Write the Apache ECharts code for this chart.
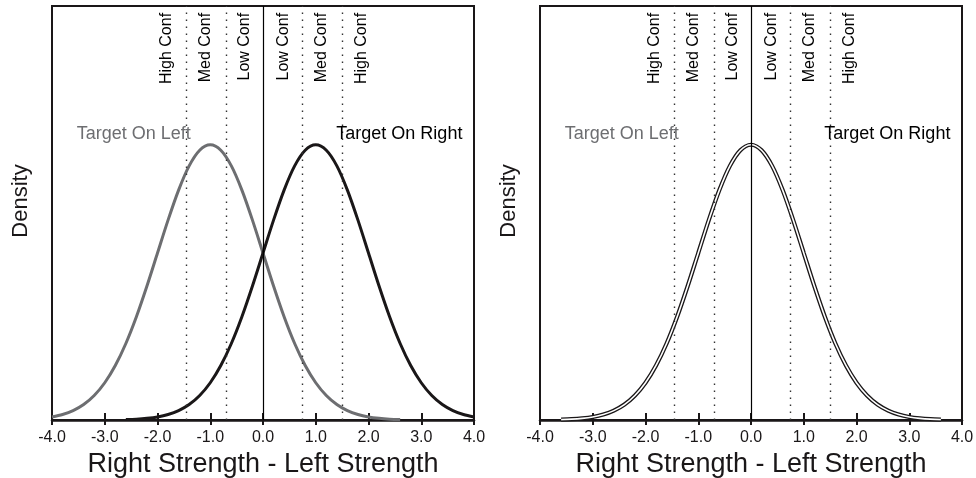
<!DOCTYPE html>
<html><head><meta charset="utf-8">
<script src="https://cdn.jsdelivr.net/npm/echarts@6/dist/echarts.min.js"></script>
<style>html,body{margin:0;padding:0;background:#fff}#c{width:976px;height:478px}</style>
</head><body><div id="c"></div>
<script>
// ---- data ----
const targetLeftX  = [-4.0,-3.8,-3.6,-3.4,-3.2,-3.0,-2.8,-2.6,-2.4,-2.2,-2.0,-1.8,-1.6,-1.4,-1.2,-1.0,-0.8,-0.6,-0.4,-0.2,0.0,0.2,0.4,0.6,0.8,1.0,1.2,1.4,1.6,1.8,2.0,2.2,2.4,2.6];
const targetLeftY  = [0.0044,0.0079,0.0136,0.0224,0.0355,0.0540,0.0790,0.1109,0.1497,0.1942,0.2420,0.2897,0.3332,0.3683,0.3910,0.3989,0.3910,0.3683,0.3332,0.2897,0.2420,0.1942,0.1497,0.1109,0.0790,0.0540,0.0355,0.0224,0.0136,0.0079,0.0044,0.0024,0.0012,0.0006];
const targetRightX = [-2.6,-2.4,-2.2,-2.0,-1.8,-1.6,-1.4,-1.2,-1.0,-0.8,-0.6,-0.4,-0.2,0.0,0.2,0.4,0.6,0.8,1.0,1.2,1.4,1.6,1.8,2.0,2.2,2.4,2.6,2.8,3.0,3.2,3.4,3.6,3.8,4.0];
const targetRightY = [0.0006,0.0012,0.0024,0.0044,0.0079,0.0136,0.0224,0.0355,0.0540,0.0790,0.1109,0.1497,0.1942,0.2420,0.2897,0.3332,0.3683,0.3910,0.3989,0.3910,0.3683,0.3332,0.2897,0.2420,0.1942,0.1497,0.1109,0.0790,0.0540,0.0355,0.0224,0.0136,0.0079,0.0044];
const overlapX = [-3.6,-3.4,-3.2,-3.0,-2.8,-2.6,-2.4,-2.2,-2.0,-1.8,-1.6,-1.4,-1.2,-1.0,-0.8,-0.6,-0.4,-0.2,0.0,0.2,0.4,0.6,0.8,1.0,1.2,1.4,1.6,1.8,2.0,2.2,2.4,2.6,2.8,3.0,3.2,3.4,3.6];
const overlapY = [0.0006,0.0012,0.0024,0.0044,0.0079,0.0136,0.0224,0.0355,0.0540,0.0790,0.1109,0.1497,0.1942,0.2420,0.2897,0.3332,0.3683,0.3910,0.3989,0.3910,0.3683,0.3332,0.2897,0.2420,0.1942,0.1497,0.1109,0.0790,0.0540,0.0355,0.0224,0.0136,0.0079,0.0044,0.0024,0.0012,0.0006];
const criterionX = [-1.45,-0.7,0.75,1.5];
const zeroX = [0];
const confLabels = ['High Conf','Med Conf','Low Conf','Low Conf','Med Conf','High Conf'];
const confLabelX = [-1.83,-1.09,-0.35,0.39,1.12,1.86];
const targetLabels = ['Target On Left','Target On Right'];
const targetLabelX = [-3.53,3.78];
const xTitle = 'Right Strength - Left Strength';
const yTitle = 'Density';

// ---- styling ----
const FONT = '"Liberation Sans", Arial, Helvetica, sans-serif';
const INK = '#1a1718';
const GRAY = '#6d6e71';
const zip = (xs, ys) => xs.map((x, i) => [x, ys[i]]);

const chart = echarts.init(document.getElementById('c'), null, {renderer: 'canvas'});
const grids = [], xAxes = [], yAxes = [], series = [], graphics = [];
const panelLeft = [52, 540];

panelLeft.forEach((left, p) => {
  grids.push({left: left, top: 6, width: 422, height: 414, show: true, borderColor: INK, borderWidth: 2,
    backgroundColor: 'transparent', outerBoundsMode: 'none', containLabel: false});
  xAxes.push({
    gridIndex: p, type: 'value', min: -4, max: 4, interval: 1, position: 'bottom',
    axisLine: {lineStyle: {color: INK, width: 2.5}},
    axisTick: {length: 5, lineStyle: {color: INK, width: 2}},
    axisLabel: {formatter: v => v.toFixed(1), fontSize: 16, color: INK, margin: 10, fontFamily: FONT},
    splitLine: {show: false},
    name: xTitle, nameLocation: 'middle', nameGap: 28,
    nameTextStyle: {fontSize: 27, color: INK, fontFamily: FONT}
  });
  xAxes.push({
    gridIndex: p, type: 'value', min: -4, max: 4, interval: 1, position: 'bottom',
    axisLine: {show: false},
    axisTick: {inside: true, length: 7, lineStyle: {color: INK, width: 2}},
    axisLabel: {show: false}, splitLine: {show: false}
  });
  yAxes.push({gridIndex: p, type: 'value', min: 0, max: 0.6, show: false});

  if (p === 0) {
    series.push({type: 'line', xAxisIndex: 0, yAxisIndex: 0, data: zip(targetLeftX, targetLeftY), showSymbol: false, smooth: 0.3,
      lineStyle: {color: GRAY, width: 3}, z: 2, silent: true});
    series.push({type: 'line', xAxisIndex: 0, yAxisIndex: 0, data: zip(targetRightX, targetRightY), showSymbol: false, smooth: 0.3,
      lineStyle: {color: INK, width: 3}, z: 3, silent: true});
  } else {
    series.push({type: 'line', xAxisIndex: 2, yAxisIndex: 1, data: zip(overlapX, overlapY), showSymbol: false, smooth: 0.3,
      lineStyle: {color: INK, width: 4.2}, z: 2, silent: true});
    series.push({type: 'line', xAxisIndex: 2, yAxisIndex: 1, data: zip(overlapX, overlapY), showSymbol: false, smooth: 0.3,
      lineStyle: {color: '#ffffff', width: 1.6}, z: 3, silent: true});
  }
  // criterion lines
  series.push({type: 'line', xAxisIndex: p * 2, yAxisIndex: p, data: [], z: 6, silent: true,
    markLine: {silent: true, symbol: 'none', label: {show: false}, animation: false,
      data: criterionX.map(x => ({xAxis: x, lineStyle: {type: [1.5, 5.5], color: '#333', width: 1.4}}))
        .concat(zeroX.map(x => ({xAxis: x, lineStyle: {type: 'solid', color: '#000', width: 1.2}})))}
  });
  // confidence labels
  series.push({type: 'scatter', xAxisIndex: p * 2, yAxisIndex: p, symbolSize: 0, silent: true, z: 7,
    itemStyle: {color: INK},
    data: confLabelX.map((x, k) => ({value: [x, 0.59], name: confLabels[k]})),
    label: {show: true, formatter: '{b}', position: 'inside', rotate: 90, align: 'right', verticalAlign: 'middle',
      fontSize: 16, color: '#000', fontFamily: FONT, textBorderWidth: 0, textBorderColor: 'transparent', textShadowBlur: 0, opacity: 1}
  });
  // target labels
  series.push({type: 'scatter', xAxisIndex: p * 2, yAxisIndex: p, symbolSize: 0, silent: true, z: 7,
    itemStyle: {color: INK},
    data: targetLabelX.map((x, k) => ({value: [x, 0.415], name: targetLabels[k],
      label: {align: k === 0 ? 'left' : 'right', color: k === 0 ? GRAY : '#000'}})),
    label: {show: true, formatter: '{b}', position: 'inside', verticalAlign: 'middle', fontSize: 18, fontFamily: FONT,
      textBorderWidth: 0, textBorderColor: 'transparent', opacity: 1}
  });
  graphics.push({type: 'text', x: left - 31, y: 201, rotation: Math.PI / 2,
    style: {text: yTitle, font: '22px ' + FONT, fill: INK, align: 'center', verticalAlign: 'middle'}});
});

chart.setOption({
  animation: false,
  backgroundColor: '#ffffff',
  grid: grids, xAxis: xAxes, yAxis: yAxes, series: series, graphic: graphics
});
</script></body></html>
